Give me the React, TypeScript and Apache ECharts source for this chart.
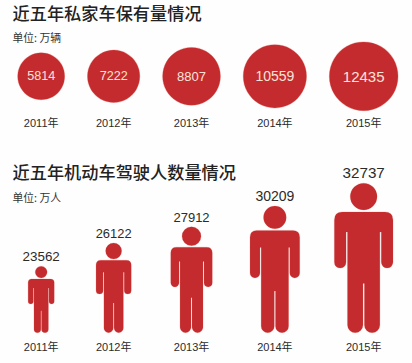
import React, { useEffect, useRef } from "react";
import * as echarts from "echarts";

const years = ["2011", "2012", "2013", "2014", "2015"];
const privateCars = [5814, 7222, 8807, 10559, 12435];
const drivers = [23562, 26122, 27912, 30209, 32737];
const titleCars = "近五年私家车保有量情况";
const titleDrivers = "近五年机动车驾驶人数量情况";
const unitCars = "单位: 万辆";
const unitDrivers = "单位: 万人";

const RED = "#c42b2e";
const HALO = "rgba(214,70,60,0.3)";
const FONT = '"Liberation Sans", "Noto Sans CJK SC", sans-serif';
const CJK = '"Noto Sans CJK SC", sans-serif';
const carLabelSizes = [12.6, 12.6, 13, 14, 15];
const driverLabelSizes = [13.4, 12.9, 13, 14, 15.2];

// circles are area-proportional, and packed left to right with a constant gap
const diameter = (v: number) => 0.616 * Math.sqrt(v);
const FIRST_LEFT = 17.7;
const GAP = 22.8;
const centers: number[] = [];
privateCars.reduce((left, v) => {
  const d = diameter(v);
  centers.push(left + d / 2);
  return left + d + GAP;
}, FIRST_LEFT);

const PERSON_W = 59;
const PERSON_H = 150.4;
const PERSON =
  "M0 37 Q0 29 8 29 L51 29 Q59 29 59 37 L59 79.7 A5.9 5.9 0 0 1 47.2 79.7 L47.2 49.3 L45.8 49.3 L45.8 142.9 " +
  "A7.6 7.6 0 0 1 30.2 142.9 L30.2 101 L28.8 101 L28.8 142.9 A7.6 7.6 0 0 1 13.2 142.9 L13.2 49.3 L11.8 49.3 L11.8 79.7 " +
  "A5.9 5.9 0 0 1 0 79.7 Z M16 13.5 A13.5 13.5 0 1 1 43 13.5 A13.5 13.5 0 1 1 16 13.5 Z";

const yearAxis = (gridIndex: number, margin: number) => ({
  type: "value",
  gridIndex,
  min: 0,
  max: 412,
  splitLine: { show: false },
  axisLine: { show: false },
  axisTick: { show: false },
  axisLabel: {
    customValues: centers,
    formatter: (v: number) => years[centers.indexOf(v)] + "年",
    fontFamily: FONT,
    fontSize: 11,
    color: "#2b2b2b",
    margin,
    hideOverlap: false,
  },
});

const heading = (text: string, top: number) => ({
  text,
  left: 12.5,
  top,
  padding: 0,
  textStyle: { fontFamily: CJK, fontSize: 17.2, fontWeight: 500, color: "#222222" },
});
const unit = (text: string, top: number) => ({
  text,
  left: 12.5,
  top,
  padding: 0,
  textStyle: { fontFamily: CJK, fontSize: 10.8, fontWeight: 400, color: "#333333" },
});

export default function App() {
  const ref = useRef<HTMLDivElement>(null);
  useEffect(() => {
    const chart = echarts.init(ref.current!, null, { renderer: "svg" });
    chart.setOption({
      animation: false,
      backgroundColor: "#fefefe",
      title: [
        heading(titleCars, 3.5),
        unit(unitCars, 32),
        heading(titleDrivers, 163),
        unit(unitDrivers, 192),
      ],
      grid: [
        { left: 0, width: 412, top: 46, height: 60.6 },
        { left: 0, width: 412, top: 160, height: 172.7 },
      ],
      xAxis: [yearAxis(0, 10.5), yearAxis(1, 8.5)],
      yAxis: [
        { type: "category", gridIndex: 0, data: ["私家车"], show: false },
        { type: "value", gridIndex: 1, min: 16200, max: 35300, show: false },
      ],
      series: [
        {
          type: "scatter",
          xAxisIndex: 0,
          yAxisIndex: 0,
          symbol: "circle",
          itemStyle: { color: RED, opacity: 1, borderColor: HALO, borderWidth: 1 },
          data: privateCars.map((v, i) => ({
            value: [centers[i], 0],
            symbolSize: diameter(v),
            label: {
              show: true,
              position: "inside",
              formatter: String(v),
              fontFamily: FONT,
              fontSize: carLabelSizes[i],
              color: "#fbe3d8",
            },
          })),
        },
        {
          type: "custom",
          xAxisIndex: 1,
          yAxisIndex: 1,
          clip: false,
          encode: { x: 0, y: 1 },
          data: drivers.map((v, i) => [centers[i], v]),
          renderItem: (params: any, api: any) => {
            const x = api.value(0);
            const v = api.value(1);
            const top = api.coord([x, v]);
            const base = api.coord([x, 16200]);
            const h = base[1] - top[1];
            const w = (h * PERSON_W) / PERSON_H;
            const fs = driverLabelSizes[params.dataIndex];
            return {
              type: "group",
              children: [
                {
                  type: "path",
                  shape: { pathData: PERSON, x: top[0] - w / 2, y: top[1], width: w, height: h, layout: "cover" },
                  style: { fill: RED, stroke: HALO, lineWidth: 0.6 },
                },
                {
                  type: "text",
                  style: {
                    text: String(v),
                    x: top[0],
                    y: top[1] - fs * 0.7,
                    align: "center",
                    verticalAlign: "middle",
                    font: `${fs}px ${FONT}`,
                    fill: "#2b2b2b",
                  },
                },
              ],
            };
          },
        },
      ],
    });
    return () => chart.dispose();
  }, []);
  return <div ref={ref} style={{ position: "fixed", left: 0, top: 0, width: 412, height: 363 }} />;
}
